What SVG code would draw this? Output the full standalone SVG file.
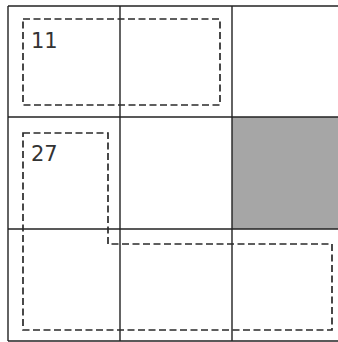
<svg xmlns="http://www.w3.org/2000/svg" width="338" height="342" viewBox="0 0 338 342">
<style>
.grid{stroke:#222;stroke-width:1.4;fill:none}
.dash{stroke:#2a2a2a;stroke-width:1.7;fill:none;stroke-dasharray:7,3.5}
.lbl{font-family:"DejaVu Sans",sans-serif;font-size:21px;fill:#333}
</style>
<rect width="338" height="342" fill="#fff"/>
<g id="shaded-cell"><rect x="232" y="117" width="106" height="112" fill="#a6a6a6"/></g>
<g id="grid">
<line class="grid" x1="8" y1="6" x2="338" y2="6"/>
<line class="grid" x1="8" y1="117" x2="338" y2="117"/>
<line class="grid" x1="8" y1="229" x2="338" y2="229"/>
<line class="grid" x1="8" y1="341" x2="338" y2="341"/>
<line class="grid" x1="8" y1="6" x2="8" y2="341"/>
<line class="grid" x1="120" y1="6" x2="120" y2="341"/>
<line class="grid" x1="232" y1="6" x2="232" y2="341"/>
</g>
<g id="region-11">
<rect class="dash" x="23" y="19" width="197" height="86"/>
<text class="lbl" x="31" y="48">11</text>
</g>
<g id="region-27">
<path class="dash" d="M23,133 H108 V244 H332 V330 H23 Z"/>
<text class="lbl" x="31" y="161">27</text>
</g>
</svg>
